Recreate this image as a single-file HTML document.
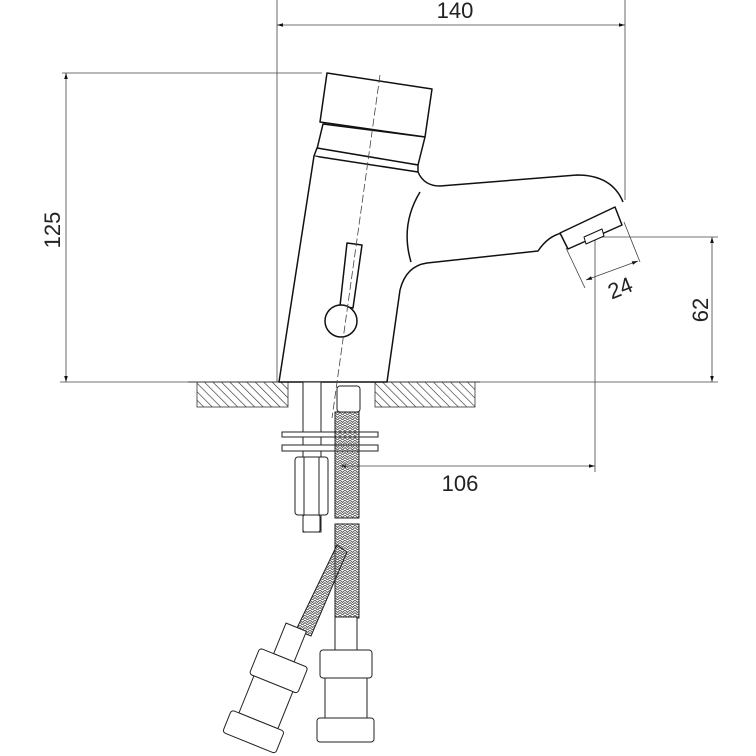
<!DOCTYPE html>
<html><head><meta charset="utf-8"><style>body{margin:0;background:#fff}svg{display:block}text{font-family:"Liberation Sans",sans-serif;fill:#222}</style></head>
<body>
<svg width="756" height="756" viewBox="0 0 756 756" xmlns="http://www.w3.org/2000/svg">
<defs>
<pattern id="h" width="6" height="6" patternUnits="userSpaceOnUse" patternTransform="rotate(-45)">
<line x1="0" y1="0" x2="0" y2="6" stroke="#222" stroke-width="1.2"/></pattern>
<pattern id="b" width="5" height="5" patternUnits="userSpaceOnUse">
<path d="M0 0L2.5 2.5L5 0M0 2.5L2.5 5L5 2.5" fill="none" stroke="#555" stroke-width="0.9"/></pattern>
<marker id="a" viewBox="0 0 10 10" refX="10" refY="5" markerWidth="12" markerHeight="6" orient="auto-start-reverse" markerUnits="userSpaceOnUse"><path d="M0 2L10 5L0 8z" fill="#111"/></marker>
</defs>
<g stroke="#444" stroke-width="0.8" fill="none">
<line x1="277" y1="0" x2="277" y2="382"/>
<line x1="625" y1="0" x2="625" y2="200"/>
<line x1="277" y1="25" x2="625" y2="25" marker-start="url(#a)" marker-end="url(#a)"/>
<line x1="62" y1="73" x2="322" y2="73"/>
<line x1="66" y1="73" x2="66" y2="382" marker-start="url(#a)" marker-end="url(#a)"/>
<line x1="60" y1="382" x2="300" y2="382"/>
<line x1="480" y1="382" x2="718" y2="382"/>
<line x1="597" y1="237" x2="718" y2="237"/>
<line x1="712" y1="237" x2="712" y2="382" marker-start="url(#a)" marker-end="url(#a)"/>
<line x1="595" y1="240" x2="595" y2="472"/>
<line x1="340" y1="466" x2="595" y2="466" marker-start="url(#a)" marker-end="url(#a)"/>
<line x1="566" y1="248" x2="585" y2="288"/>
<line x1="624" y1="222" x2="640" y2="262"/>
<line x1="586" y1="280" x2="638" y2="261" marker-start="url(#a)" marker-end="url(#a)"/>
</g>
<text x="455" y="18" font-size="22" text-anchor="middle">140</text>
<text x="460" y="491" font-size="22" text-anchor="middle">106</text>
<text transform="translate(60,230) rotate(-90)" font-size="22" text-anchor="middle">125</text>
<text transform="translate(708,310) rotate(-90)" font-size="22" text-anchor="middle">62</text>
<text transform="translate(623,295) rotate(-22)" font-size="22" text-anchor="middle">24</text>
<rect x="197" y="382" width="91" height="25" fill="url(#h)" stroke="#333" stroke-width="0.8"/>
<rect x="375" y="382" width="100" height="25" fill="url(#h)" stroke="#333" stroke-width="0.8"/>
<line x1="188" y1="382" x2="480" y2="382" stroke="#333" stroke-width="1"/>
<g stroke="#111" stroke-width="1.5" fill="#fff" stroke-linejoin="round">
<polygon points="327,73 432,89 425,137 320,122"/>
<polygon points="323,124 425,137 418,165 317,149"/>
<polygon points="317,148 418,165 418,172 314,156"/>
<path d="M314,156 L279,382 L387,382 L400,290 Q406,266 427,263 L538,251 Q548,236 562,233 M418,172 Q424,186 440,186 L577,175 Q612,175 623,202"/>
<path d="M420,192 Q400,225 411,262" fill="none"/>
<polygon points="560,233 615,207 622,225 568,249"/>
<polygon points="584,237 602,229 604,236 586,244" stroke-width="1"/>
<polygon points="347,243 362,245 353,308 340,306"/>
<circle cx="341" cy="321" r="16"/>
</g>
<g stroke="#222" stroke-width="1" fill="#fff">
<rect x="303" y="382" width="18" height="150"/>
<rect x="282" y="432" width="96" height="5"/>
<rect x="282" y="445" width="96" height="6"/>
<rect x="295" y="457" width="33" height="58" rx="3"/>
<line x1="304" y1="457" x2="304" y2="515"/><line x1="319" y1="457" x2="319" y2="515"/>
<rect x="303" y="515" width="17" height="17" rx="2"/>
<rect x="337" y="386" width="23" height="26" rx="3"/>
<rect x="335" y="412" width="24" height="106" fill="url(#b)"/>
<rect x="335" y="524" width="24" height="94" fill="url(#b)"/>
<polygon points="337,545 347,552 311,636 296,630" fill="url(#b)"/>
<rect x="335" y="617" width="22" height="33"/>
<rect x="320" y="650" width="52" height="28" rx="3"/>
<rect x="325" y="678" width="42" height="40"/>
<rect x="317" y="718" width="57" height="24" rx="3"/>
<g transform="rotate(22 285 655)">
<rect x="274" y="625" width="22" height="33"/>
<rect x="259" y="658" width="52" height="28" rx="3"/>
<rect x="264" y="686" width="42" height="40"/>
<rect x="256" y="726" width="57" height="24" rx="3"/>
</g>
</g>
<line x1="380" y1="75" x2="332" y2="418" stroke="#444" stroke-width="0.8" stroke-dasharray="8 3"/>
</svg>
</body></html>
